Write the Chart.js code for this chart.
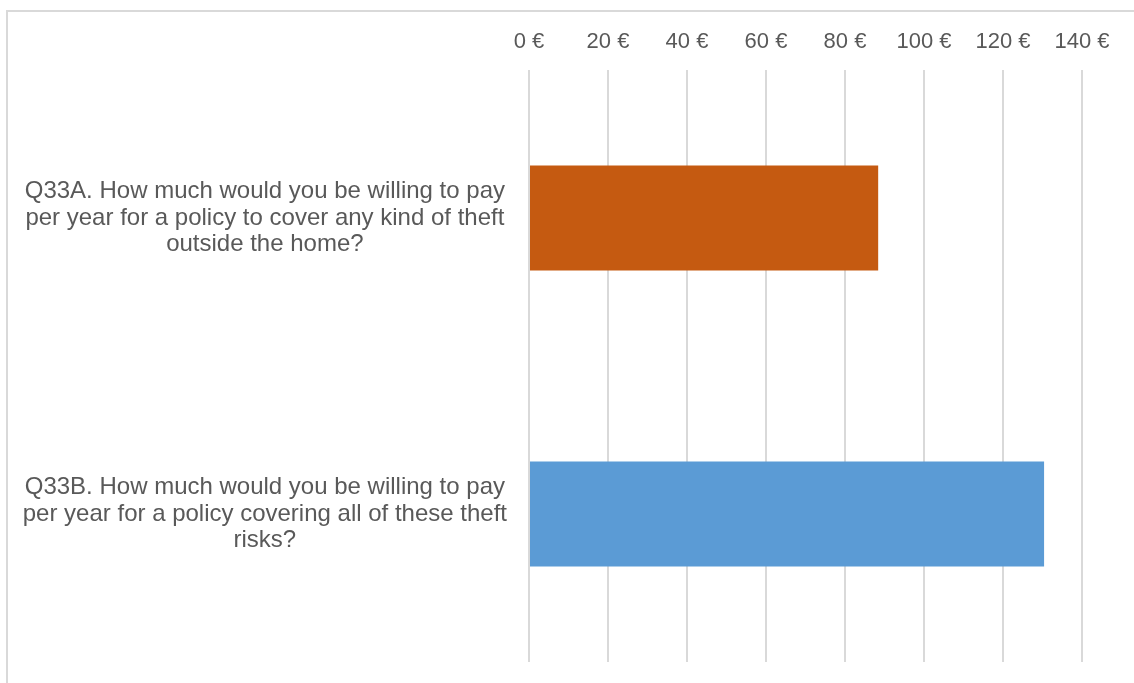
<!DOCTYPE html>
<html>
<head>
<meta charset="utf-8">
<script src="https://cdn.jsdelivr.net/npm/chart.js@4.4.1/dist/chart.umd.min.js"></script>
<style>
  html, body { margin: 0; padding: 0; background: #fff; overflow: hidden; }
  #frame {
    position: absolute; left: 6px; top: 10px; width: 1200px; height: 760px;
    border-left: 2px solid #d9d9d9; border-top: 2px solid #d9d9d9;
  }
  #wrap { position: absolute; left: 0; top: 0; width: 1134px; height: 683px; }
</style>
</head>
<body>
<div id="frame"></div>
<div id="wrap"><canvas id="chart" width="1134" height="683"></canvas></div>
<script>
// Survey questions (wrapped lines) and average amounts in euros
const questions = [
  ["Q33A. How much would you be willing to pay", "per year for a policy to cover any kind of theft", "outside the home?"],
  ["Q33B. How much would you be willing to pay", "per year for a policy covering all of these theft", "risks?"]
];
const amounts = [88.4, 130.4];
const barColors = ["#C55A11", "#5B9BD5"];
const tickStep = 20;
const tickMax = 140;

const textColor = "#595959";
const gridColor = "#d9d9d9";

new Chart(document.getElementById("chart"), {
  type: "bar",
  data: {
    labels: questions,
    datasets: [{
      data: amounts,
      backgroundColor: barColors,
      borderWidth: 0,
      categoryPercentage: 1,
      barPercentage: 0.355
    }]
  },
  options: {
    indexAxis: "y",
    responsive: false,
    animation: false,
    devicePixelRatio: 1,
    layout: { padding: { left: 10, right: 52, top: 28, bottom: 21 } },
    plugins: { legend: { display: false }, tooltip: { enabled: false } },
    scales: {
      x: {
        position: "top",
        min: 0,
        max: tickMax,
        ticks: {
          stepSize: tickStep,
          padding: 15,
          color: textColor,
          font: { family: "'Liberation Sans', Arial, sans-serif", size: 22 },
          callback: v => v + " €"
        },
        grid: { color: gridColor, lineWidth: 2, drawTicks: false },
        border: { display: false },
        afterFit: axis => { axis.height = 42; axis.paddingLeft = 0; axis.paddingRight = 0; }
      },
      y: {
        ticks: {
          crossAlign: "center",
          padding: 22,
          color: textColor,
          font: { family: "'Liberation Sans', Arial, sans-serif", size: 24, lineHeight: 1.1 }
        },
        grid: { display: false, drawTicks: false },
        border: { display: false },
        afterFit: axis => { axis.width = 519; axis.paddingTop = 0; axis.paddingBottom = 0; }
      }
    }
  }
});
</script>
</body>
</html>
